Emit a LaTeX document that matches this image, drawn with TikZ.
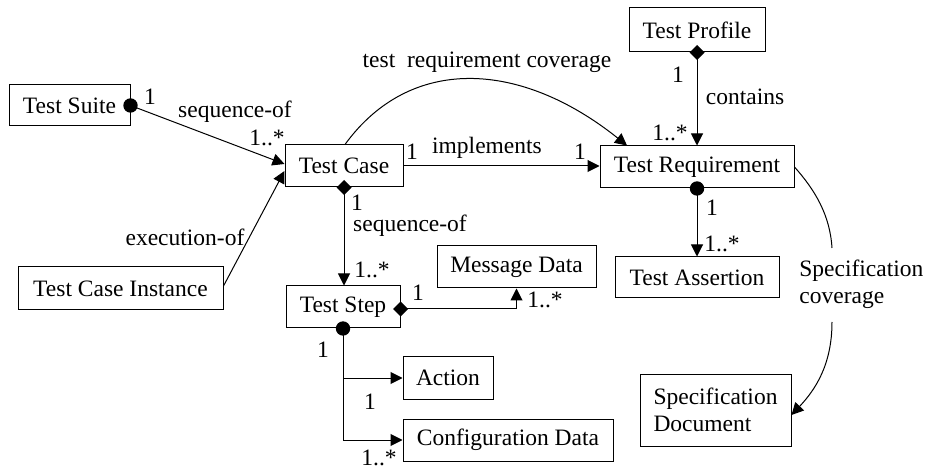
\documentclass[tikz,border=0pt]{standalone}
\usepackage{fontspec}
\setmainfont{Liberation Serif}
\usetikzlibrary{arrows.meta}
\tikzset{
  box/.style={draw, line width=0.5pt, inner sep=0pt, align=center},
  lbl/.style={inner sep=0pt, anchor=center},
  conn/.style={line width=0.5pt},
  arr/.style={conn, -{Triangle[length=6pt,width=6pt]}},
}
\newcommand\umlDia[1]{\fill (#1) +(-3.75pt,0) -- +(0,3.75pt) -- +(3.75pt,0) -- +(0,-3.75pt) -- cycle;}
\newcommand\umlDot[1]{\fill (#1) circle[radius=3.6pt];}
\begin{document}
\begin{tikzpicture}[x=0.5pt,y=-0.5pt,font=\fontsize{11.75}{13.5}\selectfont]
\useasboundingbox (0,0) rectangle (932,470);
% boxes
\node[box, minimum width=60.5pt, minimum height=20.5pt] (ts)  at (69.5,105.5) {Test Suite};
\node[box, minimum width=102.5pt, minimum height=21.5pt] (tci) at (120.5,288.5) {Test Case Instance};
\node[box, minimum width=59pt, minimum height=21pt] (tc)  at (344,166) {Test Case};
\node[box, minimum width=97pt, minimum height=21pt] (tr)  at (697,167) {Test Requirement};
\node[box, minimum width=68pt, minimum height=22pt] (tp)  at (697,30) {Test Profile};
\node[box, minimum width=82pt, minimum height=20.5pt] (ta)  at (697,277.5) {Test Assertion};
\node[box, minimum width=79.5pt, minimum height=21pt] (md)  at (516.5,267) {Message Data};
\node[box, minimum width=57pt, minimum height=21pt] (tst) at (343,307) {Test Step};
\node[box, minimum width=45pt, minimum height=21pt] (ac)  at (448,378) {Action};
\node[box, minimum width=105pt, minimum height=21pt] (cd)  at (508,440) {Configuration Data};
\node[box, minimum width=75.5pt, minimum height=36pt, align=left] (sd) at (715.5,410) {Specification\\Document};
% coordinates for the broken curve
\coordinate (sc1) at (832,248);
\coordinate (sc2) at (832,322);
% connectors
\draw[arr] (ts.east) -- ([yshift=1pt]tc.west);
\draw[arr] ([yshift=1.25pt]tci.east) -- ([yshift=-2.5pt]tc.west);
\draw[arr] (tc.east) -- (tc.east -| tr.west);
\draw[arr] ([xshift=0.5pt]tc.north) .. controls (410,55) and (520,60) .. ([xshift=-35pt]tr.north);
\draw[arr] (tp.south) -- (tr.north);
\draw[arr] (tr.south) -- (ta.north);
\draw[conn] (tr.east) .. controls (815,190) and (830,215) .. (sc1);
\draw[arr] (sc2) .. controls (832,365) and (815,390) .. ([yshift=-2.5pt]sd.east);
\draw[arr] (tc.south) -- (tc.south |- tst.north);
\draw[arr] ([yshift=-1pt]tst.east) -| (md.south);
\draw[arr] (tst.south) |- (ac.west);
\draw[arr] (tst.south) |- (cd.west);
% ends
\umlDot{ts.east}
\umlDia{tc.south}
\umlDia{tp.south}
\umlDot{tr.south}
\umlDia{[yshift=-1pt]tst.east}
\umlDot{tst.south}
% labels
\node[lbl] (l1) at (150,97) {1};
\node[lbl] (l2) at (235,112) {sequence-of};
\node[lbl] (l3) at (267,138) {1..*};
\node[lbl] (l4) at (185,237) {execution-of};
\node[lbl] (l5) at (412,152) {1};
\node[lbl] (l6) at (487,148) {implements};
\node[lbl] (l7) at (580,152) {1};
\node[lbl] (l8) at (487,62) {test\ \ requirement coverage};
\node[lbl] (l9) at (678,75) {1};
\node[lbl] (l10) at (745,97) {contains};
\node[lbl] (l11) at (670,133) {1..*};
\node[lbl] (l12) at (712,208) {1};
\node[lbl] (l13) at (722,244) {1..*};
\node[lbl] (l14) at (357,203) {1};
\node[lbl] (l15) at (410,226) {sequence-of};
\node[lbl] (l16) at (372,270) {1..*};
\node[lbl] (l17) at (418,293) {1};
\node[lbl] (l18) at (545,300) {1..*};
\node[lbl] (l19) at (323,350) {1};
\node[lbl] (l20) at (370,402) {1};
\node[lbl] (l21) at (379,458) {1..*};
\node[lbl, anchor=west, align=left] (l22) at (799,284.5) {Specification\\coverage};
\end{tikzpicture}
\end{document}
